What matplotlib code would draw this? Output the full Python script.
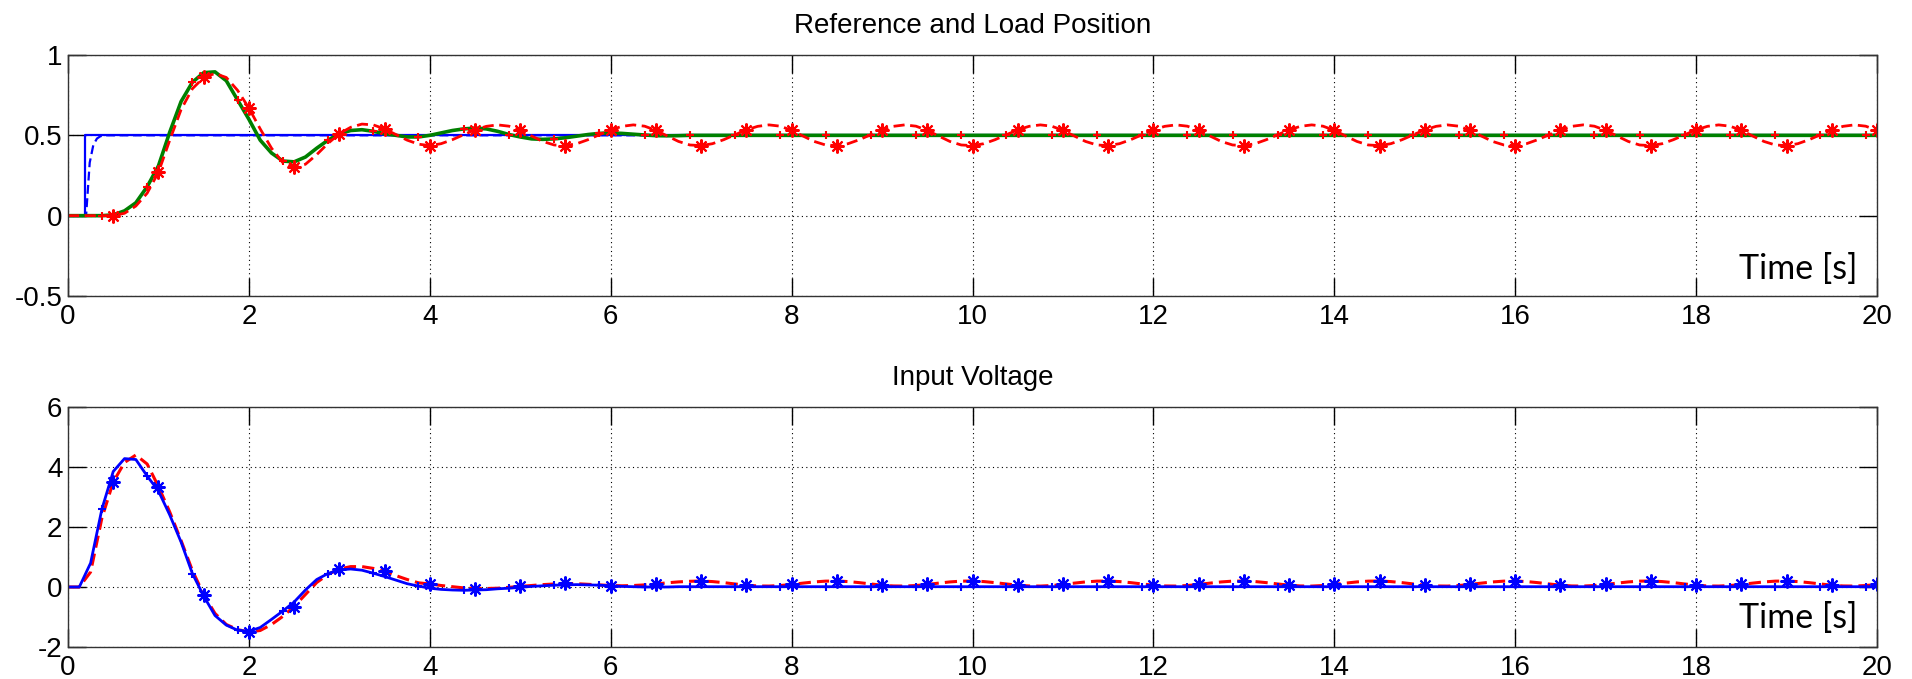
import numpy as np
import matplotlib
matplotlib.use("Agg")
import matplotlib.pyplot as plt

plt.rcParams["axes.unicode_minus"] = False

# time base, 0.125 s steps
t = np.arange(161) * 0.125

# top: reference step and filtered reference
ref_t = [0.0, 0.19, 0.19, 20.0]
ref_v = [0.0, 0.0, 0.5, 0.5]
ref_f_t = [0.0, 0.2, 0.24, 0.28, 0.32, 0.36, 0.42, 20.0]
ref_f_v = [0.0, 0.0, 0.33, 0.44, 0.48, 0.495, 0.5, 0.5]

# top: simulated load position (green), one row per second
pos_sim = [
    0, 0, 0, 0, 0.005, 0.03, 0.08, 0.18,
    0.31, 0.52, 0.71, 0.83, 0.89, 0.895, 0.84, 0.72,
    0.60, 0.47, 0.39, 0.34, 0.335, 0.365, 0.42, 0.47,
    0.51, 0.53, 0.535, 0.525, 0.51, 0.50, 0.49, 0.49,
    0.50, 0.515, 0.53, 0.54, 0.545, 0.54, 0.525, 0.505,
    0.49, 0.478, 0.475, 0.478, 0.485, 0.495, 0.505, 0.512,
    0.515, 0.512, 0.507, 0.502, 0.498, 0.497, 0.498, 0.5,
    0.5, 0.5, 0.5, 0.5, 0.5, 0.5, 0.5, 0.5,
    0.5, 0.5, 0.5, 0.5, 0.5, 0.5, 0.5, 0.5,
    0.5, 0.5, 0.5, 0.5, 0.5, 0.5, 0.5, 0.5,
    0.5, 0.5, 0.5, 0.5, 0.5, 0.5, 0.5, 0.5,
    0.5, 0.5, 0.5, 0.5, 0.5, 0.5, 0.5, 0.5,
    0.5, 0.5, 0.5, 0.5, 0.5, 0.5, 0.5, 0.5,
    0.5, 0.5, 0.5, 0.5, 0.5, 0.5, 0.5, 0.5,
    0.5, 0.5, 0.5, 0.5, 0.5, 0.5, 0.5, 0.5,
    0.5, 0.5, 0.5, 0.5, 0.5, 0.5, 0.5, 0.5,
    0.5, 0.5, 0.5, 0.5, 0.5, 0.5, 0.5, 0.5,
    0.5, 0.5, 0.5, 0.5, 0.5, 0.5, 0.5, 0.5,
    0.5, 0.5, 0.5, 0.5, 0.5, 0.5, 0.5, 0.5,
    0.5, 0.5, 0.5, 0.5, 0.5, 0.5, 0.5, 0.5,
    0.5,
]

# top: measured load position (red dashed)
pos_meas = [
    0, 0, 0, 0, 0, 0.015, 0.06, 0.14,
    0.27, 0.47, 0.66, 0.79, 0.86, 0.885, 0.86, 0.78,
    0.67, 0.54, 0.42, 0.33, 0.30, 0.32, 0.38, 0.45,
    0.51, 0.55, 0.57, 0.565, 0.54, 0.505, 0.47, 0.445,
    0.436, 0.448, 0.473, 0.504, 0.534, 0.556, 0.565, 0.557,
    0.531, 0.496, 0.462, 0.440, 0.436, 0.448, 0.473, 0.504,
    0.534, 0.556, 0.565, 0.557, 0.531, 0.496, 0.462, 0.440,
    0.436, 0.448, 0.473, 0.504, 0.534, 0.556, 0.565, 0.557,
    0.531, 0.496, 0.462, 0.440, 0.436, 0.448, 0.473, 0.504,
    0.534, 0.556, 0.565, 0.557, 0.531, 0.496, 0.462, 0.440,
    0.436, 0.448, 0.473, 0.504, 0.534, 0.556, 0.565, 0.557,
    0.531, 0.496, 0.462, 0.440, 0.436, 0.448, 0.473, 0.504,
    0.534, 0.556, 0.565, 0.557, 0.531, 0.496, 0.462, 0.440,
    0.436, 0.448, 0.473, 0.504, 0.534, 0.556, 0.565, 0.557,
    0.531, 0.496, 0.462, 0.440, 0.436, 0.448, 0.473, 0.504,
    0.534, 0.556, 0.565, 0.557, 0.531, 0.496, 0.462, 0.440,
    0.436, 0.448, 0.473, 0.504, 0.534, 0.556, 0.565, 0.557,
    0.531, 0.496, 0.462, 0.440, 0.436, 0.448, 0.473, 0.504,
    0.534, 0.556, 0.565, 0.557, 0.531, 0.496, 0.462, 0.440,
    0.436, 0.448, 0.473, 0.504, 0.534, 0.556, 0.565, 0.557,
    0.531,
]

# bottom: simulated input voltage (blue)
volt_sim = [
    0, 0, 0.8, 2.6, 3.85, 4.28, 4.25, 3.7,
    3.2, 2.4, 1.5, 0.45, -0.3, -0.95, -1.27, -1.44,
    -1.48, -1.35, -1.08, -0.8, -0.5, -0.1, 0.25, 0.45,
    0.57, 0.6, 0.56, 0.46, 0.35, 0.23, 0.11, 0.03,
    -0.04, -0.08, -0.1, -0.11, -0.1, -0.09, -0.06, -0.04,
    -0.01, 0.02, 0.04, 0.06, 0.07, 0.08, 0.07, 0.06,
    0.04, 0.02, 0.01, 0.0, 0.0, 0.0, 0.01, 0.01,
    0.01, 0.01, 0.01, 0.01, 0.01, 0.01, 0.01, 0.01,
    0.01, 0.01, 0.01, 0.01, 0.01, 0.01, 0.01, 0.01,
    0.01, 0.01, 0.01, 0.01, 0.01, 0.01, 0.01, 0.01,
    0.01, 0.01, 0.01, 0.01, 0.01, 0.01, 0.01, 0.01,
    0.01, 0.01, 0.01, 0.01, 0.01, 0.01, 0.01, 0.01,
    0.01, 0.01, 0.01, 0.01, 0.01, 0.01, 0.01, 0.01,
    0.01, 0.01, 0.01, 0.01, 0.01, 0.01, 0.01, 0.01,
    0.01, 0.01, 0.01, 0.01, 0.01, 0.01, 0.01, 0.01,
    0.01, 0.01, 0.01, 0.01, 0.01, 0.01, 0.01, 0.01,
    0.01, 0.01, 0.01, 0.01, 0.01, 0.01, 0.01, 0.01,
    0.01, 0.01, 0.01, 0.01, 0.01, 0.01, 0.01, 0.01,
    0.01, 0.01, 0.01, 0.01, 0.01, 0.01, 0.01, 0.01,
    0.01, 0.01, 0.01, 0.01, 0.01, 0.01, 0.01, 0.01,
    0.01,
]

# bottom: measured input voltage (red dashed)
volt_meas = [
    0, 0, 0.5, 2.3, 3.5, 4.15, 4.4, 4.1,
    3.35, 2.5, 1.55, 0.55, -0.25, -0.88, -1.25, -1.42,
    -1.5, -1.45, -1.25, -0.98, -0.65, -0.25, 0.15, 0.42,
    0.6, 0.68, 0.68, 0.62, 0.52, 0.38, 0.25, 0.14,
    0.1, 0.05, 0.01, -0.03, -0.05, -0.05, -0.04, -0.01,
    0.02, 0.05, 0.08, 0.1, 0.12, 0.11, 0.09, 0.07,
    0.05, 0.04, 0.05, 0.07, 0.10, 0.14, 0.17, 0.19,
    0.199, 0.181, 0.145, 0.101, 0.061, 0.035, 0.031, 0.049,
    0.085, 0.129, 0.169, 0.195, 0.199, 0.181, 0.145, 0.101,
    0.061, 0.035, 0.031, 0.049, 0.085, 0.129, 0.169, 0.195,
    0.199, 0.181, 0.145, 0.101, 0.061, 0.035, 0.031, 0.049,
    0.085, 0.129, 0.169, 0.195, 0.199, 0.181, 0.145, 0.101,
    0.061, 0.035, 0.031, 0.049, 0.085, 0.129, 0.169, 0.195,
    0.199, 0.181, 0.145, 0.101, 0.061, 0.035, 0.031, 0.049,
    0.085, 0.129, 0.169, 0.195, 0.199, 0.181, 0.145, 0.101,
    0.061, 0.035, 0.031, 0.049, 0.085, 0.129, 0.169, 0.195,
    0.199, 0.181, 0.145, 0.101, 0.061, 0.035, 0.031, 0.049,
    0.085, 0.129, 0.169, 0.195, 0.199, 0.181, 0.145, 0.101,
    0.061, 0.035, 0.031, 0.049, 0.085, 0.129, 0.169, 0.195,
    0.199, 0.181, 0.145, 0.101, 0.061, 0.035, 0.031, 0.049,
    0.085,
]

x_ticks = [0, 2, 4, 6, 8, 10, 12, 14, 16, 18, 20]
top_yticks = [-0.5, 0, 0.5, 1]
top_ylabels = ["-0.5", "0", "0.5", "1"]
bot_yticks = [-2, 0, 2, 4, 6]
bot_ylabels = ["-2", "0", "2", "4", "6"]

pos_sim = np.array(pos_sim)
pos_meas = np.array(pos_meas)
volt_sim = np.array(volt_sim)
volt_meas = np.array(volt_meas)

W, H = 1912, 679
fig = plt.figure(figsize=(W / 100, H / 100), dpi=100)
ax1 = fig.add_axes([68 / W, 1 - 296 / H, 1809 / W, 241 / H])
ax2 = fig.add_axes([68 / W, 1 - 647 / H, 1809 / W, 240 / H])

tick_font = "Liberation Sans"
time_font = ["Lato", "DejaVu Sans"]
dash = (4, 2)
star = (8, 2, 0)  # matlab-style asterisk

for ax in (ax1, ax2):
    ax.set_xlim(0, 20)
    ax.set_xticks(x_ticks)
    ax.set_xticklabels([str(v) for v in x_ticks], family=tick_font)
    ax.tick_params(direction="in", length=13, width=1, top=True, right=True,
                   labelsize=20, colors="k")
    ax.tick_params(axis="x", pad=6)
    ax.tick_params(axis="y", pad=4)
    for s in ax.spines.values():
        s.set_color("0.2")
        s.set_linewidth(1)
    ax.grid(True, color="k", linestyle=(0, (1, 3)), linewidth=0.8)
    ax.set_axisbelow(True)

# top panel
ax1.set_ylim(-0.5, 1)
ax1.set_yticks(top_yticks)
ax1.set_yticklabels(top_ylabels, family=tick_font)
ax1.plot(ref_t, ref_v, color="b", lw=1.6)
ax1.plot(ref_f_t, ref_f_v, color="b", lw=1.6, dashes=dash)
ax1.plot(t, pos_sim, color="#008000", lw=2.6)
ax1.plot(t, pos_meas, color="r", lw=2.0, dashes=dash, marker=star,
         markersize=10, mew=1.5, markevery=slice(4, None, 4))
ax1.plot(t[3::4], pos_sim[3::4], "r+", markersize=6, mew=1.5)
ax1.set_title("Reference and Load Position", fontsize=20, family=tick_font, pad=16)
ax1.text(0.989, 0.11, "Time [s]", transform=ax1.transAxes, ha="right", va="center",
         fontsize=24.5, family=time_font)

# bottom panel
ax2.set_ylim(-2, 6)
ax2.set_yticks(bot_yticks)
ax2.set_yticklabels(bot_ylabels, family=tick_font)
ax2.plot(t, volt_meas, color="r", lw=2.2, dashes=dash)
ax2.plot(t, volt_sim, color="b", lw=2.0, marker="+", markersize=6, mew=1.5,
         markevery=slice(3, None, 4))
ax2.plot(t[4::4], volt_meas[4::4], color="b", marker=star, markersize=10,
         mew=1.5, ls="none")
ax2.set_title("Input Voltage", fontsize=20, family=tick_font, pad=16)
ax2.text(0.989, 0.12, "Time [s]", transform=ax2.transAxes, ha="right", va="center",
         fontsize=24.5, family=time_font)

fig.savefig("out.png", dpi=100)
